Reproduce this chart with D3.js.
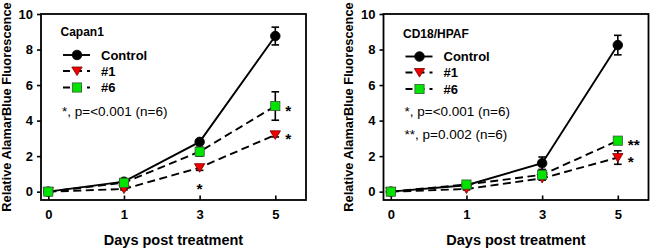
<!DOCTYPE html>
<html><head><meta charset="utf-8">
<script src="https://cdn.jsdelivr.net/npm/d3@7"></script>
<style>body{margin:0;background:#fff}svg{display:block;font-family:"Liberation Sans",Arial,sans-serif}</style>
</head><body><svg width="650" height="249"></svg>
<script>
// ---- data ----
const days = ["0", "1", "3", "5"];
const yTicks = [0, 2, 4, 6, 8, 10];
const seriesNames = ["Control", "#1", "#6"];

const capanControl = [0, 0.56, 2.8, 8.76];
const capanControlErr = [0, 0.08, 0.12, 0.5];
const capanS1 = [0, 0.15, 1.35, 3.2];
const capanS1Err = [0, 0.05, 0.15, 0.12];
const capanS6 = [0, 0.5, 2.25, 4.82];
const capanS6Err = [0, 0.1, 0.25, 0.8];
const capanNotes = ["*, p=<0.001 (n=6)"];
const capanMarkSeries = ["#6", "#1", "#1"];
const capanMarkDays = ["5", "5", "3"];
const capanMarkText = ["*", "*", "*"];

const hpafControl = [0, 0.36, 1.6, 8.25];
const hpafControlErr = [0, 0.08, 0.35, 0.55];
const hpafS1 = [0, 0.15, 0.75, 1.92];
const hpafS1Err = [0, 0.05, 0.1, 0.38];
const hpafS6 = [0, 0.4, 0.95, 2.87];
const hpafS6Err = [0, 0.08, 0.25, 0.1];
const hpafNotes = ["*, p=<0.001 (n=6)", "**, p=0.002 (n=6)"];
const hpafMarkSeries = ["#6", "#1"];
const hpafMarkDays = ["5", "5"];
const hpafMarkText = ["**", "*"];

const panels = [
  {title: "Capan1", ox: 0, ly: 0,
   values: [capanControl, capanS1, capanS6], errs: [capanControlErr, capanS1Err, capanS6Err],
   notes: capanNotes, markSeries: capanMarkSeries, markDays: capanMarkDays, markText: capanMarkText},
  {title: "CD18/HPAF", ox: 342.5, ly: 1.5,
   values: [hpafControl, hpafS1, hpafS6], errs: [hpafControlErr, hpafS1Err, hpafS6Err],
   notes: hpafNotes, markSeries: hpafMarkSeries, markDays: hpafMarkDays, markText: hpafMarkText}
];

// ---- drawing ----
const svg = d3.select("svg");
const frame = {l: 41, r: 306, t: 14, b: 200};
const styles = {
  "Control": {dash: null, shape: "circle"},
  "#1": {dash: "8,4.5", shape: "tri"},
  "#6": {dash: "8,4.5", shape: "square"}
};

function marker(g, shape, cx, cy) {
  if (shape === "circle") {
    g.append("circle").attr("cx", cx).attr("cy", cy).attr("r", 4.8)
      .attr("fill", "#000").attr("stroke", "#000").attr("stroke-width", 0.8);
  } else if (shape === "tri") {
    g.append("path").attr("d", `M${cx-5.2},${cy-4} L${cx+5.2},${cy-4} L${cx},${cy+4.6} Z`)
      .attr("fill", "#f00000").attr("stroke", "#7a0000").attr("stroke-width", 0.8);
  } else {
    g.append("rect").attr("x", cx-4.6).attr("y", cy-4.6).attr("width", 9.2).attr("height", 9.2)
      .attr("fill", "#00e400").attr("stroke", "#3a5a3a").attr("stroke-width", 0.8);
  }
}

panels.forEach(p => {
  const g = svg.append("g").attr("transform", `translate(${p.ox},0)`);
  const x = d3.scalePoint().domain(days).range([48.3, 275.3]);
  const y = d3.scaleLinear().domain([-0.47, 10]).range([frame.b, frame.t]);

  // y axis (ticks outward)
  const ya = g.append("g").attr("transform", `translate(${frame.l},0)`)
    .call(d3.axisLeft(y).tickValues(yTicks).tickSize(4).tickPadding(4));
  ya.select(".domain").remove();
  ya.selectAll("line").attr("stroke-width", 1.6);
  ya.selectAll("text").attr("font-size", 13).attr("font-weight", "bold").attr("fill", "#000")
    .attr("font-family", "Liberation Sans, Arial, sans-serif");

  // x axis (ticks inward)
  const xa = g.append("g").attr("transform", `translate(0,${frame.b})`)
    .call(d3.axisBottom(x).tickSize(-4.5).tickPadding(10));
  xa.select(".domain").remove();
  xa.selectAll("line").attr("stroke-width", 1.6);
  xa.selectAll("text").attr("font-size", 13).attr("font-weight", "bold").attr("fill", "#000")
    .attr("font-family", "Liberation Sans, Arial, sans-serif");

  // frame
  g.append("rect").attr("x", frame.l).attr("y", frame.t)
    .attr("width", frame.r - frame.l).attr("height", frame.b - frame.t)
    .attr("fill", "none").attr("stroke", "#000").attr("stroke-width", 1.8);

  // axis titles
  g.append("text").attr("x", (frame.l + frame.r) / 2).attr("y", 245)
    .attr("text-anchor", "middle").attr("font-size", 14.5).attr("font-weight", "bold")
    .text("Days post treatment");
  g.append("text").attr("transform", `translate(10.5,107) rotate(-90)`)
    .attr("text-anchor", "middle").attr("font-size", 12.8).attr("font-weight", "bold")
    .text("Relative AlamarBlue Fluorescence");

  const line = d3.line().x((d, i) => x(days[i])).y(d => y(d));

  // lines
  p.values.forEach((vals, si) => {
    const st = styles[seriesNames[si]];
    g.append("path").attr("d", line(vals)).attr("fill", "none")
      .attr("stroke", "#000").attr("stroke-width", 1.9)
      .attr("stroke-dasharray", st.dash);
  });
  // error bars
  p.values.forEach((vals, si) => {
    vals.forEach((v, i) => {
      const e = p.errs[si][i];
      if (e <= 0) return;
      const cx = x(days[i]);
      g.append("line").attr("x1", cx).attr("x2", cx).attr("y1", y(v - e)).attr("y2", y(v + e))
        .attr("stroke", "#000").attr("stroke-width", 1.6);
      [v - e, v + e].forEach(w => {
        g.append("line").attr("x1", cx - 3.8).attr("x2", cx + 3.8).attr("y1", y(w)).attr("y2", y(w))
          .attr("stroke", "#000").attr("stroke-width", 1.6);
      });
    });
  });
  // markers
  p.values.forEach((vals, si) => {
    const st = styles[seriesNames[si]];
    vals.forEach((v, i) => marker(g, st.shape, x(days[i]), y(v)));
  });

  // legend
  g.append("text").attr("x", 60.5).attr("y", 36 + p.ly).attr("font-size", 12).attr("font-weight", "bold")
    .text(p.title);
  const legY = [55, 71, 87.5];
  seriesNames.forEach((name, si) => {
    const st = styles[name];
    const ly = legY[si] + p.ly;
    g.append("line").attr("x1", 63).attr("x2", 90).attr("y1", ly).attr("y2", ly)
      .attr("stroke", "#000").attr("stroke-width", 1.9).attr("stroke-dasharray", st.dash ? "7,5" : null);
    marker(g, st.shape, 77, ly);
    g.append("text").attr("x", 101).attr("y", ly + 4.6).attr("font-size", 13).attr("font-weight", "bold")
      .text(name);
  });
  p.notes.forEach((t, i) => {
    g.append("text").attr("x", 62).attr("y", 116 + i * 23).attr("font-size", 13.5).text(t);
  });

  // significance marks
  p.markText.forEach((t, i) => {
    const si = seriesNames.indexOf(p.markSeries[i]);
    const di = days.indexOf(p.markDays[i]);
    const v = p.values[si][di];
    const last = di === days.length - 1;
    const mx = last ? x(days[di]) + 10 : x(days[di]);
    const my = last ? y(v) + 9.5 : y(v) + 26.5;
    g.append("text").attr("x", mx).attr("y", my)
      .attr("text-anchor", last ? "start" : "middle")
      .attr("font-size", 15.5).attr("font-weight", "bold").text(t);
  });
});
</script></body></html>
